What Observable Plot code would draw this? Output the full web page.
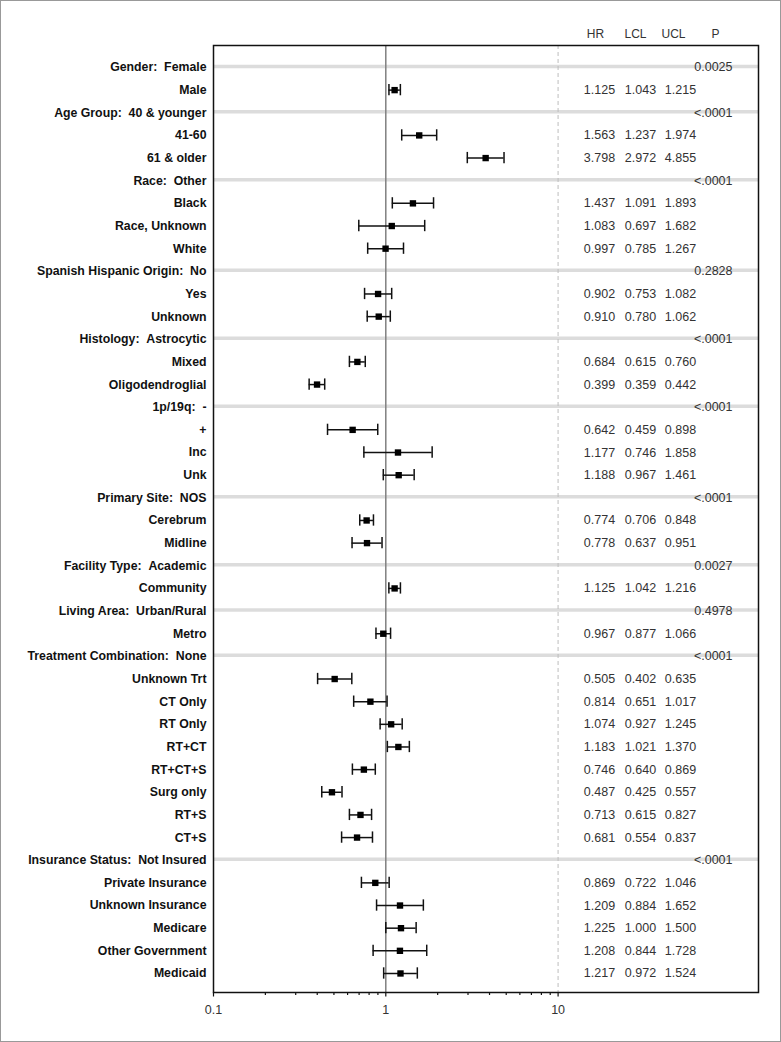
<!DOCTYPE html>
<html>
<head>
<meta charset="utf-8">
<script src="https://cdn.jsdelivr.net/npm/d3@7"></script>
<script src="https://cdn.jsdelivr.net/npm/@observablehq/plot@0.6"></script>
<style>
  html, body { margin: 0; padding: 0; background: #fff; }
  #chart svg { display: block; border: 1px solid #999; }
</style>
</head>
<body>
<div id="chart"></div>
<script>
// ---- data ----
const labels = [
  "Gender:  Female", "Male",
  "Age Group:  40 & younger", "41-60", "61 & older",
  "Race:  Other", "Black", "Race, Unknown", "White",
  "Spanish Hispanic Origin:  No", "Yes", "Unknown",
  "Histology:  Astrocytic", "Mixed", "Oligodendroglial",
  "1p/19q:  -", "+", "Inc", "Unk",
  "Primary Site:  NOS", "Cerebrum", "Midline",
  "Facility Type:  Academic", "Community",
  "Living Area:  Urban/Rural", "Metro",
  "Treatment Combination:  None", "Unknown Trt", "CT Only", "RT Only", "RT+CT", "RT+CT+S", "Surg only", "RT+S", "CT+S",
  "Insurance Status:  Not Insured", "Private Insurance", "Unknown Insurance", "Medicare", "Other Government", "Medicaid"
];
const hr = [
  null, 1.125,
  null, 1.563, 3.798,
  null, 1.437, 1.083, 0.997,
  null, 0.902, 0.910,
  null, 0.684, 0.399,
  null, 0.642, 1.177, 1.188,
  null, 0.774, 0.778,
  null, 1.125,
  null, 0.967,
  null, 0.505, 0.814, 1.074, 1.183, 0.746, 0.487, 0.713, 0.681,
  null, 0.869, 1.209, 1.225, 1.208, 1.217
];
const lcl = [
  null, 1.043,
  null, 1.237, 2.972,
  null, 1.091, 0.697, 0.785,
  null, 0.753, 0.780,
  null, 0.615, 0.359,
  null, 0.459, 0.746, 0.967,
  null, 0.706, 0.637,
  null, 1.042,
  null, 0.877,
  null, 0.402, 0.651, 0.927, 1.021, 0.640, 0.425, 0.615, 0.554,
  null, 0.722, 0.884, 1.000, 0.844, 0.972
];
const ucl = [
  null, 1.215,
  null, 1.974, 4.855,
  null, 1.893, 1.682, 1.267,
  null, 1.082, 1.062,
  null, 0.760, 0.442,
  null, 0.898, 1.858, 1.461,
  null, 0.848, 0.951,
  null, 1.216,
  null, 1.066,
  null, 0.635, 1.017, 1.245, 1.370, 0.869, 0.557, 0.827, 0.837,
  null, 1.046, 1.652, 1.500, 1.728, 1.524
];
const pvals = [
  "0.0025", null,
  "<.0001", null, null,
  "<.0001", null, null, null,
  "0.2828", null, null,
  "<.0001", null, null,
  "<.0001", null, null, null,
  "<.0001", null, null,
  "0.0027", null,
  "0.4978", null,
  "<.0001", null, null, null, null, null, null, null, null,
  "<.0001", null, null, null, null, null
];
const columnHeaders = ["HR", "LCL", "UCL", "P"];
const majorTicks = [0.1, 1, 10];
const minorTicks = [0.2,0.3,0.4,0.5,0.6,0.7,0.8,0.9,2,3,4,5,6,7,8,9];

// ---- build table ----
const table = labels.map((label, i) => ({row: i, label, hr: hr[i], lcl: lcl[i], ucl: ucl[i], p: pvals[i]}));
const est = table.filter(d => d.hr != null);
const heads = table.filter(d => d.p != null);
const f3 = d3.format(".3f");
const fmtLabel = s => s.replace(/  /g, " \u00a0");

const font = "'Liberation Sans', Arial, sans-serif";
const txt = "#333";
const capHalf = 0.25;

// column text offsets from the right edge of the frame
const valueCols = [
  {key: "hr", dx: -159},
  {key: "lcl", dx: -118},
  {key: "ucl", dx: -78}
];
const headerDx = [-163, -123, -85, -43];

const marks = [
  // group header bands
  Plot.ruleY(heads, {y: "row", stroke: "#dcdcdc", strokeWidth: 3.5, dy: -1}),
  // reference lines
  Plot.ruleX([10], {stroke: "#bdbdbd", strokeWidth: 1, strokeDasharray: "4,3"}),
  Plot.ruleX([1], {stroke: "#808080", strokeWidth: 1.5}),
  // CI bars
  Plot.ruleY(est, {y: "row", x1: "lcl", x2: "ucl", stroke: "#111", strokeWidth: 1.5}),
  Plot.ruleX(est, {x: "lcl", y1: d => d.row - capHalf, y2: d => d.row + capHalf, stroke: "#111", strokeWidth: 1.5}),
  Plot.ruleX(est, {x: "ucl", y1: d => d.row - capHalf, y2: d => d.row + capHalf, stroke: "#111", strokeWidth: 1.5}),
  Plot.dot(est, {x: "hr", y: "row", symbol: "square", r: 3.6, fill: "#000", stroke: "none"}),
  // value columns
  ...valueCols.map(c => Plot.text(est, {
    y: "row", text: d => f3(d[c.key]), frameAnchor: "right", dx: c.dx,
    textAnchor: "middle", lineAnchor: "middle", fontSize: 12.5, fill: txt, fontFamily: font
  })),
  Plot.text(heads, {
    y: "row", text: "p", frameAnchor: "right", dx: -26, dy: 0,
    textAnchor: "end", lineAnchor: "middle", fontSize: 12.5, fill: txt, fontFamily: font
  }),
  // column headers
  ...columnHeaders.map((h, i) => Plot.text([h], {
    text: d => d, frameAnchor: "top-right", dx: headerDx[i], dy: -11,
    textAnchor: "middle", lineAnchor: "middle", fontSize: 12, fill: txt, fontFamily: font
  })),
  // axes
  Plot.axisY({ticks: d3.range(labels.length), tickFormat: i => fmtLabel(labels[i]), tickSize: 0, tickPadding: 7,
    fontSize: 12.3, fontWeight: "bold", fill: "#111", label: null, fontFamily: font}),
  Plot.axisX({ticks: minorTicks, tickFormat: () => "", tickSize: 3, stroke: "#111", strokeWidth: 1.2, label: null}),
  Plot.axisX({ticks: majorTicks, tickFormat: d => String(d), tickSize: 4.5, tickPadding: 8.5, stroke: "#111",
    strokeWidth: 1.2, fill: txt, fontSize: 12.5, label: null, fontFamily: font}),
  Plot.frame({stroke: "#111", strokeWidth: 1.5})
];

const chart = Plot.plot({
  width: 779,
  height: 1040,
  marginLeft: 212,
  marginRight: 22,
  marginTop: 44,
  marginBottom: 49,
  style: {fontFamily: font, fontSize: "12px", background: "#fff", color: "#111"},
  x: {type: "log", domain: [0.1, 145.6]},
  y: {type: "linear", domain: [-0.97, 40.84], reverse: true},
  marks
});
document.getElementById("chart").appendChild(chart);
</script>
</body>
</html>
